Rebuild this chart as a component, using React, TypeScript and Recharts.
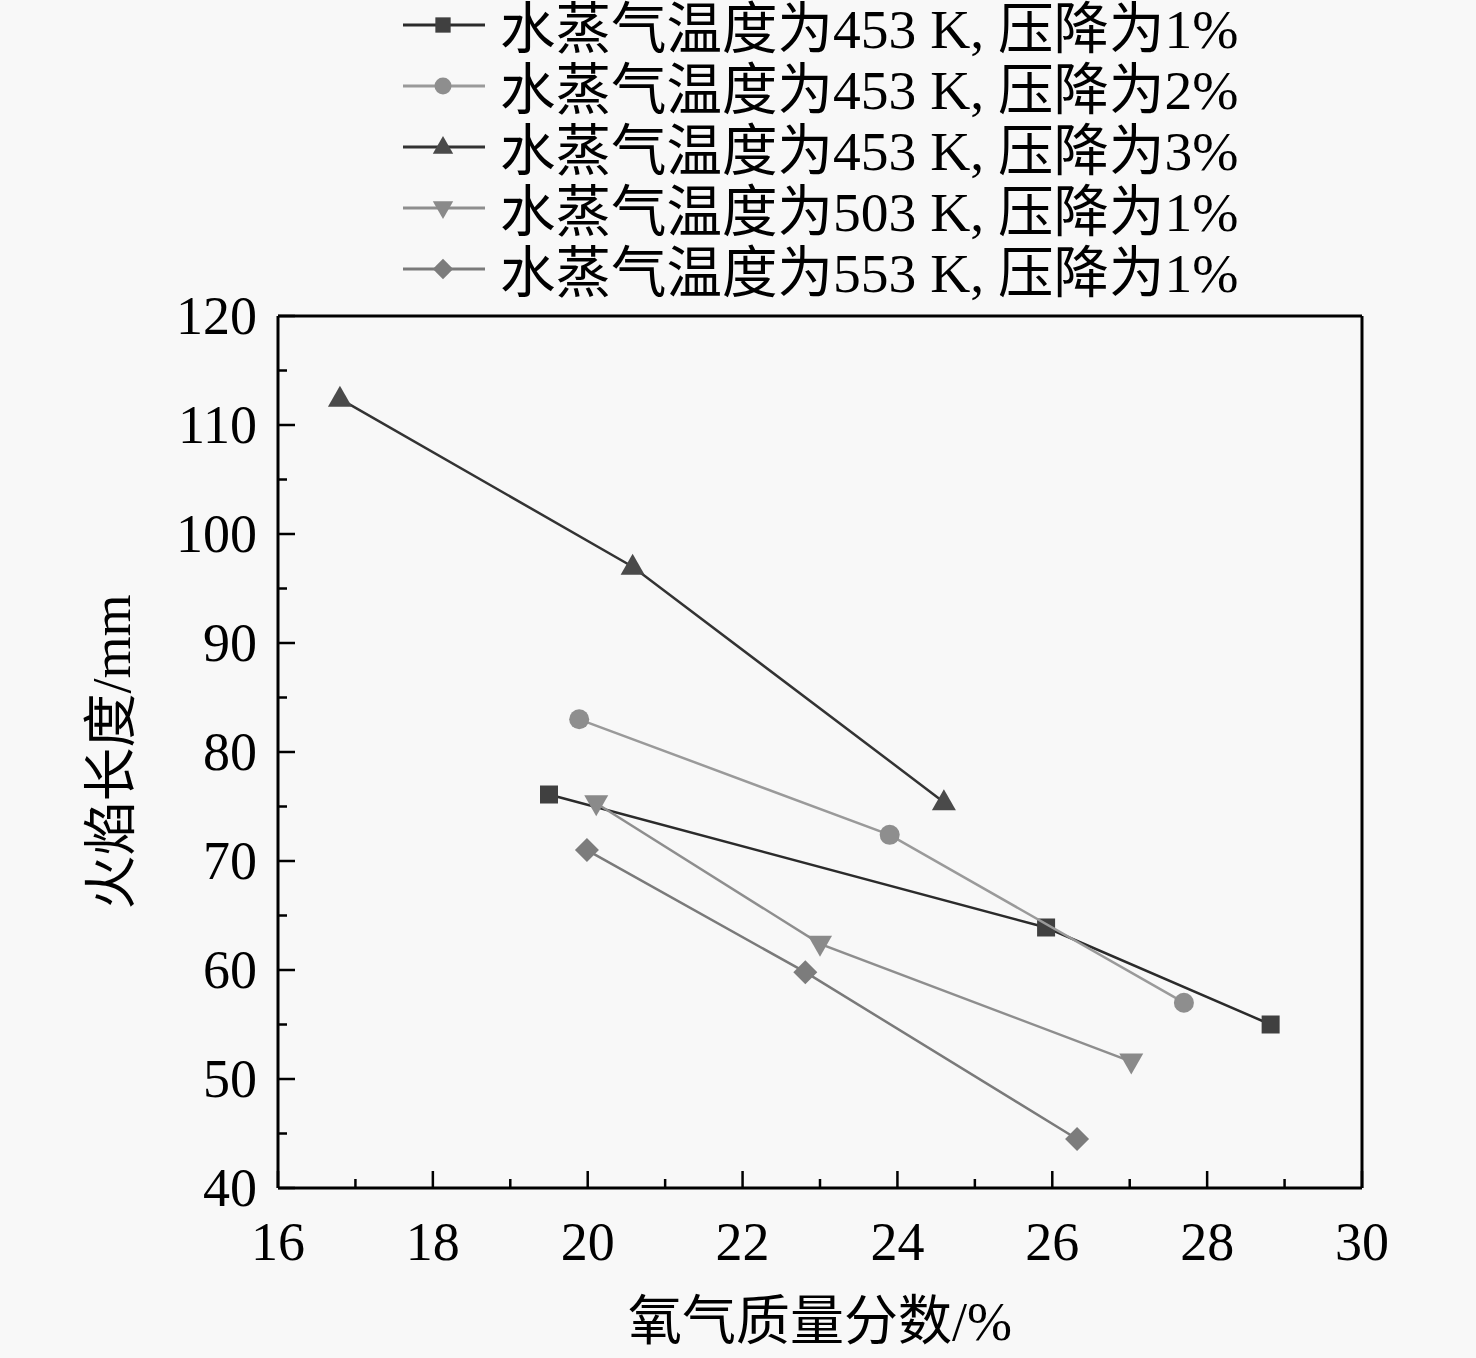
import React from "react";
import { ScatterChart, Scatter, XAxis, YAxis, ReferenceLine } from "recharts";

// ---- data ----
const seriesNames = [
  "水蒸气温度为453 K, 压降为1%",
  "水蒸气温度为453 K, 压降为2%",
  "水蒸气温度为453 K, 压降为3%",
  "水蒸气温度为503 K, 压降为1%",
  "水蒸气温度为553 K, 压降为1%",
];

const s453p1 = [
  { x: 19.5, y: 76.1 },
  { x: 25.92, y: 63.9 },
  { x: 28.82, y: 55.0 },
];
const s453p2 = [
  { x: 19.89, y: 83.0 },
  { x: 23.9, y: 72.4 },
  { x: 27.7, y: 57.0 },
];
const s453p3 = [
  { x: 16.8, y: 112.4 },
  { x: 20.58, y: 97.0 },
  { x: 24.6, y: 75.4 },
];
const s503p1 = [
  { x: 20.11, y: 75.3 },
  { x: 23.0, y: 62.4 },
  { x: 27.02, y: 51.6 },
];
const s553p1 = [
  { x: 19.99, y: 71.0 },
  { x: 22.81, y: 59.8 },
  { x: 26.32, y: 44.5 },
];

const xTicks = [16, 17, 18, 19, 20, 21, 22, 23, 24, 25, 26, 27, 28, 29, 30];
const xMajorTicks = [16, 18, 20, 22, 24, 26, 28, 30];
const yTicks = [40, 45, 50, 55, 60, 65, 70, 75, 80, 85, 90, 95, 100, 105, 110, 115, 120];
const yMajorTicks = [40, 50, 60, 70, 80, 90, 100, 110, 120];
const xDomain = [16, 30];
const yDomain = [40, 120];

const xLabel = "氧气质量分数/%";
const yLabel = "火焰长度/mm";

// ---- styles ----
const FONT = "'Liberation Serif', 'Times New Roman', 'Noto Sans CJK SC', serif";
const FS = 54;
const LEGEND_FS = 55.5;

type Shape = "square" | "circle" | "triangle" | "down" | "diamond";

const series = [
  { name: seriesNames[0], data: s453p1, shape: "square" as Shape, line: "#2b2b2b", fill: "#404040" },
  { name: seriesNames[1], data: s453p2, shape: "circle" as Shape, line: "#9a9a9a", fill: "#8e8e8e" },
  { name: seriesNames[2], data: s453p3, shape: "triangle" as Shape, line: "#333333", fill: "#4a4a4a" },
  { name: seriesNames[3], data: s503p1, shape: "down" as Shape, line: "#8e8e8e", fill: "#8a8a8a" },
  { name: seriesNames[4], data: s553p1, shape: "diamond" as Shape, line: "#7a7a7a", fill: "#7c7c7c" },
];

function marker(shape: Shape, cx: number, cy: number, fill: string, s = 1) {
  switch (shape) {
    case "square":
      return <rect x={cx - 9 * s} y={cy - 9 * s} width={18 * s} height={18 * s} fill={fill} />;
    case "circle":
      return <circle cx={cx} cy={cy} r={10 * s} fill={fill} />;
    case "triangle":
      return (
        <polygon
          points={`${cx},${cy - 13 * s} ${cx + 12 * s},${cy + 8 * s} ${cx - 12 * s},${cy + 8 * s}`}
          fill={fill}
        />
      );
    case "down":
      return (
        <polygon
          points={`${cx},${cy + 13 * s} ${cx + 12 * s},${cy - 8 * s} ${cx - 12 * s},${cy - 8 * s}`}
          fill={fill}
        />
      );
    case "diamond":
    default:
      return (
        <polygon
          points={`${cx},${cy - 12 * s} ${cx + 12 * s},${cy} ${cx},${cy + 12 * s} ${cx - 12 * s},${cy}`}
          fill={fill}
        />
      );
  }
}

const XTick = (props: any) => {
  const { x, y, payload } = props;
  const major = xMajorTicks.includes(payload.value);
  return (
    <g>
      <line x1={x} x2={x} y1={y} y2={y - (major ? 17 : 9)} stroke="#000" strokeWidth={2.5} />
      {major && (
        <text x={x} y={y + 54} textAnchor="middle" dominantBaseline="central" fontSize={FS} fontFamily={FONT} fill="#000">
          {payload.value}
        </text>
      )}
    </g>
  );
};

const YTick = (props: any) => {
  const { x, y, payload } = props;
  const major = yMajorTicks.includes(payload.value);
  return (
    <g>
      <line x1={x} x2={x + (major ? 17 : 9)} y1={y} y2={y} stroke="#000" strokeWidth={2.5} />
      {major && (
        <text x={x - 21} y={y} textAnchor="end" dominantBaseline="central" fontSize={FS} fontFamily={FONT} fill="#000">
          {payload.value}
        </text>
      )}
    </g>
  );
};

const Legend = () => (
  <svg width={1476} height={310} style={{ position: "absolute", left: 0, top: 0 }}>
    {series.map((s, i) => {
      const cy = 25 + i * 61;
      return (
        <g key={s.name}>
          <line x1={403} x2={485} y1={cy} y2={cy} stroke={s.line} strokeWidth={3} />
          {marker(s.shape, 443, cy, s.fill, 0.85)}
          <text x={500} y={cy + 4} dominantBaseline="central" fontSize={LEGEND_FS} fontFamily={FONT} fill="#000">
            {s.name}
          </text>
        </g>
      );
    })}
  </svg>
);

export default function App() {
  return (
    <div style={{ position: "absolute", left: 0, top: 0, width: 1476, height: 1358, background: "#f8f8f8" }}>
      <ScatterChart
        width={1476}
        height={1358}
        margin={{ top: 316, right: 114, bottom: 70, left: 0 }}
      >
        <XAxis
          type="number"
          dataKey="x"
          domain={xDomain}
          ticks={xTicks}
          interval={0}
          tickSize={0}
          tickMargin={0}
          tickLine={false}
          tick={<XTick />}
          axisLine={{ stroke: "#000", strokeWidth: 3 }}
          height={100}
          label={{
            content: (p: any) => {
              const vb = p.viewBox;
              return (
                <text
                  x={vb.x + vb.width / 2}
                  y={vb.y + 134}
                  textAnchor="middle"
                  dominantBaseline="central"
                  fontSize={FS}
                  fontFamily={FONT}
                  fill="#000"
                >
                  {xLabel}
                </text>
              );
            },
          }}
        />
        <YAxis
          type="number"
          dataKey="y"
          domain={yDomain}
          ticks={yTicks}
          interval={0}
          tickSize={0}
          tickMargin={0}
          tickLine={false}
          tick={<YTick />}
          axisLine={{ stroke: "#000", strokeWidth: 3 }}
          width={278}
          label={{
            content: (p: any) => {
              const vb = p.viewBox;
              const cx = 112;
              const cy = vb.y + vb.height / 2;
              return (
                <text
                  x={cx}
                  y={cy}
                  textAnchor="middle"
                  dominantBaseline="central"
                  fontSize={FS}
                  fontFamily={FONT}
                  fill="#000"
                  transform={`rotate(-90 ${cx} ${cy})`}
                >
                  {yLabel}
                </text>
              );
            },
          }}
        />
        <ReferenceLine y={yDomain[1]} stroke="#000" strokeWidth={3} ifOverflow="visible" />
        <ReferenceLine x={xDomain[1]} stroke="#000" strokeWidth={3} ifOverflow="visible" />
        {series.map((s) => (
          <Scatter
            key={s.name}
            name={s.name}
            data={s.data}
            isAnimationActive={false}
            fill={s.fill}
            line={{ stroke: s.line, strokeWidth: 2.5 }}
            shape={(p: any) => marker(s.shape, p.cx, p.cy, s.fill)}
          />
        ))}
      </ScatterChart>
      <Legend />
    </div>
  );
}
